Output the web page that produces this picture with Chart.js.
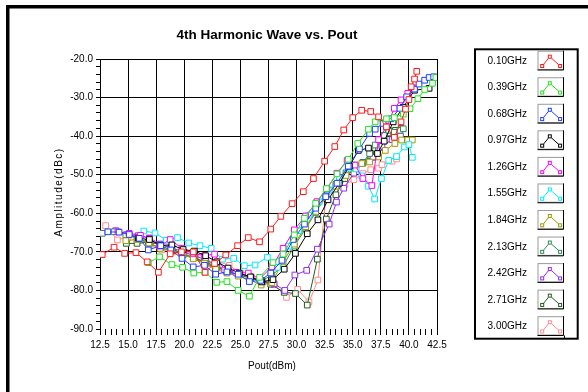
<!DOCTYPE html>
<html>
<head>
<meta charset="utf-8">
<script src="https://cdn.jsdelivr.net/npm/chart.js@4.4.1/dist/chart.umd.min.js"></script>
<style>
    html, body { margin: 0; padding: 0; background: #fff; }
    canvas { display: block; }
</style>
</head>
<body>
<canvas id="harmonicChart" width="588" height="392"></canvas>
<script>
const freqLabels = ['0.10GHz', '0.39GHz', '0.68GHz', '0.97GHz', '1.26GHz', '1.55GHz',
    '1.84GHz', '2.13GHz', '2.42GHz', '2.71GHz', '3.00GHz'];
const lineColors = ['#ff1a1a', '#22e022', '#1f3fff', '#000000', '#ff00ff', '#00eaff',
    '#9c9a00', '#2e8b57', '#8f2bef', '#235c23', '#ff8c8c'];

// Pout (dBm) and 4th harmonic amplitude (dBc), one pair per frequency
const pout010 = [12.7, 13.75, 14.7, 15.7, 16.7, 17.7, 18.75, 19.75, 20.8, 21.85, 22.7, 23.7, 24.75, 25.7, 26.7, 27.7, 28.6, 29.6, 30.6, 31.5, 32.5, 33.4, 34.2, 35.0, 35.8, 36.6, 37.3, 38.0, 38.7, 39.3, 39.7, 40.0, 40.2, 40.5, 40.7];
const amp010 = [-70.7, -68.8, -70.4, -70.2, -72.6, -75.3, -70.5, -70.0, -70.0, -75.3, -73.0, -70.8, -68.4, -66.3, -67.4, -64.1, -60.8, -57.5, -54.4, -51.0, -46.5, -42.7, -38.4, -35.2, -33.3, -33.6, -35.0, -37.6, -40.3, -36.3, -33.0, -30.5, -27.2, -25.2, -23.2];

const pout039 = [16.8, 17.8, 18.9, 19.85, 20.85, 21.85, 22.9, 23.8, 24.8, 25.8, 26.7, 27.9, 28.8, 29.8, 30.7, 31.7, 32.65, 33.6, 34.6, 35.45, 36.4, 37.0, 38.0, 38.7, 39.5, 40.1, 40.8, 41.4, 42.1, 42.4];
const amp039 = [-72.8, -71.3, -73.3, -74.0, -75.5, -75.3, -77.9, -77.7, -80.0, -81.5, -76.6, -72.8, -70.6, -65.6, -61.3, -57.4, -53.6, -49.8, -46.0, -41.9, -38.2, -36.3, -35.5, -35.2, -34.3, -32.9, -30.3, -27.9, -26.3, -24.8];

const pout068 = [13.2, 14.2, 15.1, 16.0, 16.8, 17.9, 18.8, 19.8, 20.8, 21.8, 22.8, 23.8, 24.8, 25.8, 26.8, 27.7, 28.7, 29.7, 30.7, 31.7, 32.6, 33.6, 34.6, 35.6, 36.5, 37.0, 37.7, 38.4, 39.2, 39.8, 40.5, 40.9, 41.4, 41.8, 42.2];
const amp068 = [-64.8, -64.9, -65.5, -66.5, -69.5, -68.4, -69.5, -71.7, -73.9, -73.5, -75.8, -75.2, -75.8, -77.7, -77.4, -75.5, -72.2, -66.8, -62.8, -58.7, -55.7, -52.2, -47.8, -43.3, -39.3, -38.2, -36.7, -35.5, -32.8, -29.8, -27.8, -26.5, -25.5, -24.8, -24.6];

const pout097 = [15.9, 16.9, 17.9, 18.9, 19.9, 20.9, 21.9, 22.9, 23.9, 24.9, 25.9, 26.9, 27.9, 28.9, 29.9, 30.95, 31.9, 32.8, 33.8, 34.7, 35.5, 36.4, 37.2, 37.8, 38.6, 39.5, 40.5, 41.8];
const amp097 = [-66.5, -66.8, -68.3, -68.2, -69.4, -69.8, -71.0, -72.6, -74.2, -75.5, -76.5, -77.8, -77.2, -74.5, -70.4, -65.3, -61.7, -56.5, -52.2, -47.8, -43.7, -43.1, -44.5, -41.3, -36.3, -32.5, -28.1, -27.6];

const pout126 = [14.1, 15.1, 16.1, 16.9, 17.8, 18.75, 19.8, 20.8, 21.8, 22.7, 23.6, 24.6, 25.7, 26.7, 27.8, 28.8, 29.8, 30.8, 31.8, 32.7, 33.6, 34.5, 35.2, 35.9, 36.7, 37.3, 38.0, 38.7, 39.3, 39.9, 40.4];
const amp126 = [-64.8, -65.2, -65.7, -66.5, -68.5, -66.8, -69.1, -70.4, -71.0, -70.6, -74.7, -75.3, -75.5, -77.0, -73.9, -69.1, -64.3, -60.7, -57.0, -53.7, -49.6, -46.3, -47.5, -51.0, -52.8, -40.9, -37.5, -32.8, -30.6, -28.9, -27.5];

const pout155 = [16.4, 17.4, 18.4, 19.4, 20.4, 21.4, 22.4, 23.4, 24.4, 25.35, 26.3, 27.4, 28.3, 29.3, 30.2, 31.1, 32.0, 32.9, 33.8, 34.6, 35.3, 35.8, 36.4, 36.95, 37.55, 38.2, 38.9, 39.6, 40.0, 40.3];
const amp155 = [-64.6, -65.1, -67.0, -66.3, -67.7, -68.4, -69.1, -71.9, -71.7, -73.6, -73.4, -71.4, -74.0, -68.5, -64.5, -60.5, -57.0, -54.0, -50.8, -48.3, -48.5, -50.3, -53.0, -56.3, -51.0, -46.3, -45.3, -42.8, -42.2, -45.5];

const pout184 = [14.8, 15.8, 16.85, 17.85, 18.8, 19.8, 20.8, 21.8, 22.8, 23.8, 24.8, 25.8, 26.85, 27.8, 28.8, 29.8, 30.8, 31.7, 32.6, 33.5, 34.4, 35.2, 35.8, 36.5, 37.3, 37.9, 38.75, 39.35, 39.9, 40.3];
const amp184 = [-67.1, -66.8, -67.7, -69.1, -69.5, -70.5, -71.8, -73.0, -74.5, -75.5, -76.3, -77.2, -78.6, -78.0, -72.5, -68.0, -63.5, -59.5, -56.0, -53.0, -50.2, -48.3, -47.1, -46.7, -45.4, -43.7, -41.9, -41.0, -41.0, -41.0];

const pout213 = [12.7, 13.75, 14.8, 15.8, 16.9, 17.9, 18.9, 19.9, 20.9, 21.9, 22.9, 23.9, 24.9, 25.9, 26.9, 27.8, 28.8, 29.8, 30.8, 31.7, 32.6, 33.5, 34.4, 35.2, 35.9, 36.5, 37.0, 37.8, 38.2, 38.7, 39.2, 39.5];
const amp213 = [-65.2, -64.8, -65.6, -66.2, -67.8, -69.0, -69.7, -70.8, -71.5, -73.0, -74.2, -75.0, -76.0, -76.8, -77.5, -76.0, -73.7, -68.5, -64.0, -59.8, -55.5, -52.5, -49.5, -47.5, -46.9, -44.5, -42.3, -39.8, -38.5, -39.0, -38.5, -38.1];

const pout242 = [13.9, 14.95, 15.9, 16.9, 17.9, 18.9, 19.9, 20.9, 21.9, 22.9, 23.9, 24.9, 25.9, 26.9, 28.0, 28.95, 29.85, 30.9, 31.85, 32.9, 33.55, 34.2, 35.1, 35.9, 36.8, 37.6, 38.5, 39.25];
const amp242 = [-64.5, -65.5, -65.8, -66.4, -68.0, -69.0, -70.0, -71.0, -72.0, -73.5, -75.0, -75.8, -76.5, -77.5, -78.3, -80.0, -76.0, -74.8, -69.3, -62.8, -57.1, -53.5, -49.6, -47.0, -45.5, -42.6, -40.9, -40.0];

const pout271 = [14.85, 15.8, 16.8, 17.8, 18.8, 19.8, 20.8, 21.8, 22.8, 23.8, 24.8, 25.8, 26.8, 27.7, 28.9, 29.9, 30.95, 31.85, 32.65, 33.5, 34.3, 35.1, 35.9, 36.6, 37.3, 38.15, 38.8, 39.3];
const amp271 = [-67.8, -67.8, -67.5, -68.0, -69.0, -70.5, -71.5, -72.5, -73.8, -75.0, -75.8, -76.8, -77.5, -78.4, -80.5, -80.8, -83.8, -71.9, -61.5, -55.2, -51.0, -48.5, -46.8, -45.0, -43.0, -39.2, -38.5, -38.0];

const pout300 = [13.0, 14.05, 15.0, 16.0, 17.0, 18.0, 19.0, 20.0, 21.0, 22.0, 23.0, 24.0, 25.0, 26.0, 27.0, 28.0, 29.1, 30.1, 31.1, 31.9, 32.6, 33.4, 34.3, 35.1, 35.9, 36.6, 37.3, 37.6, 38.5, 38.9];
const amp300 = [-63.2, -66.9, -66.0, -66.5, -68.0, -69.5, -70.0, -70.5, -71.5, -73.0, -72.5, -73.5, -75.5, -76.5, -77.8, -78.5, -81.8, -79.7, -83.0, -77.3, -56.0, -54.0, -52.5, -51.3, -49.7, -48.7, -48.3, -47.4, -46.5, -45.9];

const poutSets = [pout010, pout039, pout068, pout097, pout126, pout155, pout184, pout213, pout242, pout271, pout300];
const ampSets = [amp010, amp039, amp068, amp097, amp126, amp155, amp184, amp213, amp242, amp271, amp300];

const xMin = 12.5, xMax = 42.5, yMin = -90, yMax = -20;

function isMajor(v, step) {
    const r = (v - (v < 0 ? yMin : xMin)) / step;
    return Math.abs(r - Math.round(r)) < 1e-6;
}

// title, frame, axis titles and the boxed legend are drawn by hand
const decorPlugin = {
    id: 'decor',
    afterDraw(chart) {
        const ctx = chart.ctx;
        ctx.save();

        // window frame, only top and left edge are in view
        ctx.fillStyle = '#000';
        ctx.fillRect(6, 5, 582, 3.5);
        ctx.fillRect(6, 5, 3.5, 387);

        ctx.fillStyle = '#000';
        ctx.textAlign = 'center';
        ctx.textBaseline = 'middle';
        ctx.font = 'bold 13.5px "Liberation Sans", Arial, sans-serif';
        ctx.fillText('4th Harmonic Wave vs. Pout', 267, 35);

        ctx.font = '10px "Liberation Sans", Arial, sans-serif';
        ctx.fillText('Pout(dBm)', 272, 366);

        ctx.save();
        ctx.translate(59, 192);
        ctx.rotate(-Math.PI / 2);
        ctx.letterSpacing = '1.5px';
        ctx.fillText('Amplitude(dBc)', 0, 0);
        ctx.restore();

        // legend box
        ctx.lineWidth = 2;
        ctx.strokeStyle = '#000';
        ctx.strokeRect(475, 49.3, 102.7, 289.4);

        const rowStep = 26.55;
        for (let i = 0; i < freqLabels.length; i++) {
            const top = 50.7 + i * rowStep;
            const cy = top + 9.7;
            ctx.fillStyle = '#000';
            ctx.textAlign = 'right';
            ctx.font = '10px "Liberation Sans", Arial, sans-serif';
            ctx.fillText(freqLabels[i], 527, cy + 0.5);

            const bx = 537.5, bw = 26.5, bh = 19.3;
            ctx.lineWidth = 1;
            ctx.strokeStyle = '#9a9a9a';
            ctx.strokeRect(bx + 0.5, top + 0.5, bw - 1, bh - 1);
            ctx.strokeStyle = '#000';
            ctx.beginPath();
            ctx.moveTo(bx + bw - 0.5, top);
            ctx.lineTo(bx + bw - 0.5, top + bh);
            ctx.lineTo(bx, top + bh);
            ctx.stroke();

            const pts = [[bx + 4.7, top + 15.3], [bx + 12.3, top + 6], [bx + 22.6, top + 15.3]];
            ctx.strokeStyle = lineColors[i];
            ctx.beginPath();
            ctx.moveTo(pts[0][0], pts[0][1]);
            ctx.lineTo(pts[1][0], pts[1][1]);
            ctx.lineTo(pts[2][0], pts[2][1]);
            ctx.stroke();
            pts.forEach(p => {
                ctx.fillStyle = '#fff';
                ctx.fillRect(p[0] - 2, p[1] - 2, 4, 4);
                ctx.strokeRect(p[0] - 1.5, p[1] - 1.5, 3, 3);
            });
        }
        ctx.strokeStyle = '#000';
        ctx.lineWidth = 1;
        ctx.beginPath();
        ctx.moveTo(564.5, 50.7 + 10 * rowStep + 19.3);
        ctx.lineTo(564.5, 338);
        ctx.stroke();

        ctx.restore();
    }
};

const datasets = freqLabels.map((label, i) => ({
    label: label,
    data: poutSets[i].map((x, k) => ({ x: x, y: ampSets[i][k] })),
    borderColor: lineColors[i],
    backgroundColor: '#ffffff',
    borderWidth: 1,
    pointStyle: 'rect',
    pointRadius: 4,
    pointBorderWidth: 1,
    pointBorderColor: lineColors[i],
    pointBackgroundColor: '#ffffff',
    tension: 0
}));

const ctx = document.getElementById('harmonicChart').getContext('2d');
const harmonicChart = new Chart(ctx, {
    type: 'line',
    data: { datasets: datasets },
    plugins: [decorPlugin],
    options: {
        responsive: false,
        animation: false,
        devicePixelRatio: 1,
        layout: { padding: { left: 0, top: 59, right: 151, bottom: 0 } },
        plugins: {
            legend: { display: false },
            title: { display: false },
            tooltip: { enabled: false }
        },
        scales: {
            x: {
                type: 'linear',
                min: xMin,
                max: xMax,
                afterFit: scale => { scale.height = 392 - 329; },
                border: { display: false },
                grid: {
                    color: c => isMajor(c.tick.value, 2.5) ? '#000' : 'rgba(0,0,0,0)',
                    tickColor: '#000',
                    tickLength: 6,
                    lineWidth: 1
                },
                ticks: {
                    stepSize: 0.5,
                    autoSkip: false,
                    maxRotation: 0,
                    padding: 4,
                    color: '#000',
                    font: { family: '"Liberation Sans", Arial, sans-serif', size: 10 },
                    callback: v => isMajor(v, 2.5) ? v.toFixed(1) : ''
                }
            },
            y: {
                min: yMin,
                max: yMax,
                afterFit: scale => { scale.width = 100; },
                border: { display: true, color: '#000', width: 1 },
                grid: {
                    color: c => (isMajor(c.tick.value, 10) && c.tick.value !== yMin) ? '#000' : 'rgba(0,0,0,0)',
                    tickColor: '#000',
                    tickLength: 4,
                    lineWidth: 1
                },
                ticks: {
                    stepSize: 2,
                    autoSkip: false,
                    padding: 3,
                    color: '#000',
                    font: { family: '"Liberation Sans", Arial, sans-serif', size: 10 },
                    callback: v => isMajor(v, 10) ? v.toFixed(1) : ''
                }
            }
        }
    }
});
</script>
</body>
</html>
